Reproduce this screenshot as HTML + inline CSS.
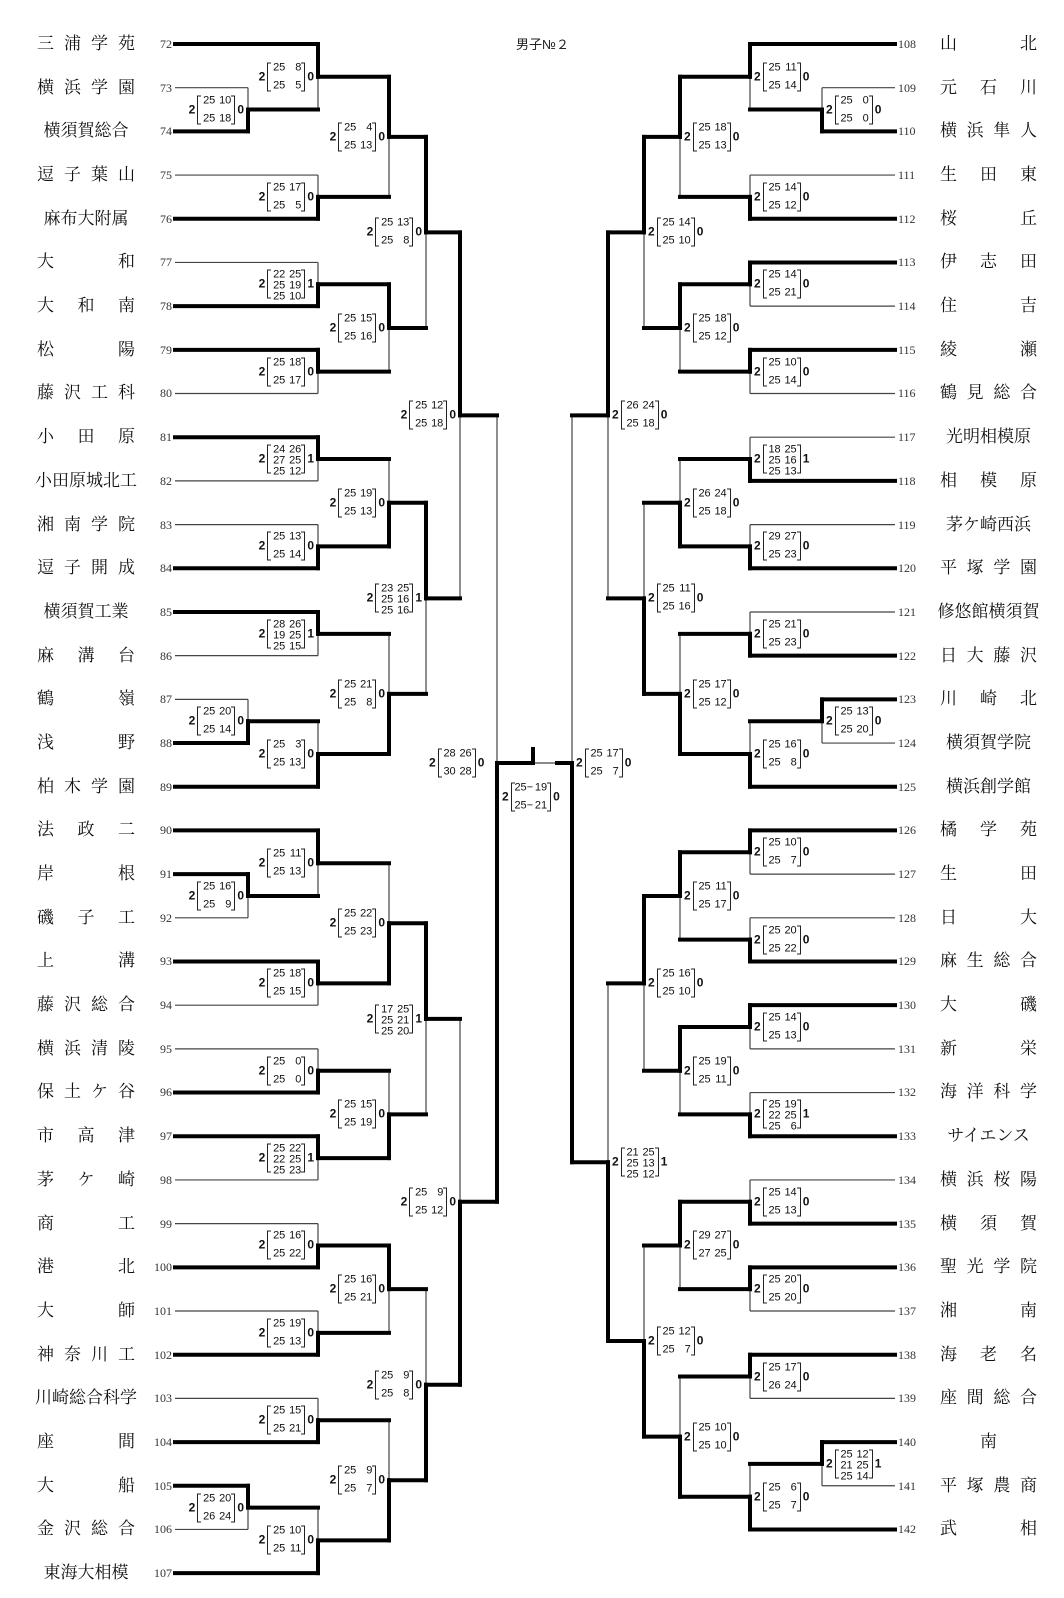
<!DOCTYPE html>
<html><head><meta charset="utf-8">
<style>
html,body{margin:0;padding:0;background:#fff}
#wrap{position:relative;width:1064px;height:1598px;overflow:hidden;background:#fff}
svg{position:absolute;left:0;top:0}
.col{position:absolute;top:22.15px}
.row{height:43.69px;position:relative}
.nm{position:absolute;top:50%;transform:translateY(-50%);font-size:17px;font-family:"Liberation Serif","Noto Serif CJK SC",serif;white-space:nowrap;line-height:22px;color:#111}
.j{text-align:justify;text-align-last:justify}
.c{text-align:center}
.no{position:absolute;top:50%;transform:translateY(-50%);font:12px "Liberation Serif",serif;color:#333;line-height:14px}
.L{left:0;width:175px}
.L .nm{left:37px;width:98px}
.L .nm.c{left:20px;width:132px}
.L .no{right:3px}
.R{left:895px;width:169px}
.R .no{left:3px}
.R .nm{left:45px;width:97px}
.R .nm.c{left:28px;width:131px}
.sc{position:absolute;display:flex;align-items:center;font:11px "Liberation Sans",sans-serif;line-height:11px;transform:translateY(-50%);color:#111;white-space:nowrap}
.sc b{font-size:12px;font-weight:bold;font-family:"Liberation Sans",sans-serif}
.bx{position:relative;height:29px;display:flex;flex-direction:column;justify-content:space-between;padding:0 4px 0 2px;margin:0 2px}
.bx::before,.bx::after{content:"";position:absolute;top:0;bottom:0;width:3px;border:1px solid #222}
.bx::before{left:0;border-right:none}
.bx::after{right:0;border-left:none}
.bx p{margin:0;display:flex}
.bx i{font-style:normal;width:16px;text-align:right;display:block}
.bx p.d i{width:14px}
.title{position:absolute;left:516px;top:34px;font:13px "Liberation Sans","Noto Sans CJK JP",sans-serif;color:#222}
</style></head><body><div id="wrap">
<svg id="sv" width="1064" height="1598" xmlns="http://www.w3.org/2000/svg"></svg>
<div class="title">男子№２</div>

<div class="col L">
<div class="row"><span class="nm j">三浦学苑</span><span class="no">72</span></div>
<div class="row"><span class="nm j">横浜学園</span><span class="no">73</span></div>
<div class="row"><span class="nm c">横須賀総合</span><span class="no">74</span></div>
<div class="row"><span class="nm j">逗子葉山</span><span class="no">75</span></div>
<div class="row"><span class="nm c">麻布大附属</span><span class="no">76</span></div>
<div class="row"><span class="nm j">大　和</span><span class="no">77</span></div>
<div class="row"><span class="nm j">大和南</span><span class="no">78</span></div>
<div class="row"><span class="nm j">松　陽</span><span class="no">79</span></div>
<div class="row"><span class="nm j">藤沢工科</span><span class="no">80</span></div>
<div class="row"><span class="nm j">小田原</span><span class="no">81</span></div>
<div class="row"><span class="nm c">小田原城北工</span><span class="no">82</span></div>
<div class="row"><span class="nm j">湘南学院</span><span class="no">83</span></div>
<div class="row"><span class="nm j">逗子開成</span><span class="no">84</span></div>
<div class="row"><span class="nm c">横須賀工業</span><span class="no">85</span></div>
<div class="row"><span class="nm j">麻溝台</span><span class="no">86</span></div>
<div class="row"><span class="nm j">鶴　嶺</span><span class="no">87</span></div>
<div class="row"><span class="nm j">浅　野</span><span class="no">88</span></div>
<div class="row"><span class="nm j">柏木学園</span><span class="no">89</span></div>
<div class="row"><span class="nm j">法政二</span><span class="no">90</span></div>
<div class="row"><span class="nm j">岸　根</span><span class="no">91</span></div>
<div class="row"><span class="nm j">磯子工</span><span class="no">92</span></div>
<div class="row"><span class="nm j">上　溝</span><span class="no">93</span></div>
<div class="row"><span class="nm j">藤沢総合</span><span class="no">94</span></div>
<div class="row"><span class="nm j">横浜清陵</span><span class="no">95</span></div>
<div class="row"><span class="nm j">保土ケ谷</span><span class="no">96</span></div>
<div class="row"><span class="nm j">市高津</span><span class="no">97</span></div>
<div class="row"><span class="nm j">茅ケ崎</span><span class="no">98</span></div>
<div class="row"><span class="nm j">商　工</span><span class="no">99</span></div>
<div class="row"><span class="nm j">港　北</span><span class="no">100</span></div>
<div class="row"><span class="nm j">大　師</span><span class="no">101</span></div>
<div class="row"><span class="nm j">神奈川工</span><span class="no">102</span></div>
<div class="row"><span class="nm c">川崎総合科学</span><span class="no">103</span></div>
<div class="row"><span class="nm j">座　間</span><span class="no">104</span></div>
<div class="row"><span class="nm j">大　船</span><span class="no">105</span></div>
<div class="row"><span class="nm j">金沢総合</span><span class="no">106</span></div>
<div class="row"><span class="nm c">東海大相模</span><span class="no">107</span></div>
</div>

<div class="col R">
<div class="row"><span class="nm j">山　北</span><span class="no">108</span></div>
<div class="row"><span class="nm j">元石川</span><span class="no">109</span></div>
<div class="row"><span class="nm j">横浜隼人</span><span class="no">110</span></div>
<div class="row"><span class="nm j">生田東</span><span class="no">111</span></div>
<div class="row"><span class="nm j">桜　丘</span><span class="no">112</span></div>
<div class="row"><span class="nm j">伊志田</span><span class="no">113</span></div>
<div class="row"><span class="nm j">住　吉</span><span class="no">114</span></div>
<div class="row"><span class="nm j">綾　瀬</span><span class="no">115</span></div>
<div class="row"><span class="nm j">鶴見総合</span><span class="no">116</span></div>
<div class="row"><span class="nm c">光明相模原</span><span class="no">117</span></div>
<div class="row"><span class="nm j">相模原</span><span class="no">118</span></div>
<div class="row"><span class="nm c">茅ケ崎西浜</span><span class="no">119</span></div>
<div class="row"><span class="nm j">平塚学園</span><span class="no">120</span></div>
<div class="row"><span class="nm c">修悠館横須賀</span><span class="no">121</span></div>
<div class="row"><span class="nm j">日大藤沢</span><span class="no">122</span></div>
<div class="row"><span class="nm j">川崎北</span><span class="no">123</span></div>
<div class="row"><span class="nm c">横須賀学院</span><span class="no">124</span></div>
<div class="row"><span class="nm c">横浜創学館</span><span class="no">125</span></div>
<div class="row"><span class="nm j">橘学苑</span><span class="no">126</span></div>
<div class="row"><span class="nm j">生　田</span><span class="no">127</span></div>
<div class="row"><span class="nm j">日　大</span><span class="no">128</span></div>
<div class="row"><span class="nm j">麻生総合</span><span class="no">129</span></div>
<div class="row"><span class="nm j">大　磯</span><span class="no">130</span></div>
<div class="row"><span class="nm j">新　栄</span><span class="no">131</span></div>
<div class="row"><span class="nm j">海洋科学</span><span class="no">132</span></div>
<div class="row"><span class="nm c">サイエンス</span><span class="no">133</span></div>
<div class="row"><span class="nm j">横浜桜陽</span><span class="no">134</span></div>
<div class="row"><span class="nm j">横須賀</span><span class="no">135</span></div>
<div class="row"><span class="nm j">聖光学院</span><span class="no">136</span></div>
<div class="row"><span class="nm j">湘　南</span><span class="no">137</span></div>
<div class="row"><span class="nm j">海老名</span><span class="no">138</span></div>
<div class="row"><span class="nm j">座間総合</span><span class="no">139</span></div>
<div class="row"><span class="nm c">南</span><span class="no">140</span></div>
<div class="row"><span class="nm j">平塚農商</span><span class="no">141</span></div>
<div class="row"><span class="nm j">武　相</span><span class="no">142</span></div>
</div>

<div class="sc" id="l1"><b>2</b><div class="bx"><p><i>25</i><i>10</i></p><p><i>25</i><i>18</i></p></div><b>0</b></div>
<div class="sc" id="l2"><b>2</b><div class="bx"><p><i>25</i><i>8</i></p><p><i>25</i><i>5</i></p></div><b>0</b></div>
<div class="sc" id="l3"><b>2</b><div class="bx"><p><i>25</i><i>17</i></p><p><i>25</i><i>5</i></p></div><b>0</b></div>
<div class="sc" id="l4"><b>2</b><div class="bx"><p><i>25</i><i>4</i></p><p><i>25</i><i>13</i></p></div><b>0</b></div>
<div class="sc" id="l5"><b>2</b><div class="bx"><p><i>22</i><i>25</i></p><p><i>25</i><i>19</i></p><p><i>25</i><i>10</i></p></div><b>1</b></div>
<div class="sc" id="l6"><b>2</b><div class="bx"><p><i>25</i><i>18</i></p><p><i>25</i><i>17</i></p></div><b>0</b></div>
<div class="sc" id="l7"><b>2</b><div class="bx"><p><i>25</i><i>15</i></p><p><i>25</i><i>16</i></p></div><b>0</b></div>
<div class="sc" id="l8"><b>2</b><div class="bx"><p><i>25</i><i>13</i></p><p><i>25</i><i>8</i></p></div><b>0</b></div>
<div class="sc" id="l9"><b>2</b><div class="bx"><p><i>24</i><i>26</i></p><p><i>27</i><i>25</i></p><p><i>25</i><i>12</i></p></div><b>1</b></div>
<div class="sc" id="l10"><b>2</b><div class="bx"><p><i>25</i><i>13</i></p><p><i>25</i><i>14</i></p></div><b>0</b></div>
<div class="sc" id="l11"><b>2</b><div class="bx"><p><i>25</i><i>19</i></p><p><i>25</i><i>13</i></p></div><b>0</b></div>
<div class="sc" id="l12"><b>2</b><div class="bx"><p><i>28</i><i>26</i></p><p><i>19</i><i>25</i></p><p><i>25</i><i>15</i></p></div><b>1</b></div>
<div class="sc" id="l13"><b>2</b><div class="bx"><p><i>25</i><i>20</i></p><p><i>25</i><i>14</i></p></div><b>0</b></div>
<div class="sc" id="l14"><b>2</b><div class="bx"><p><i>25</i><i>3</i></p><p><i>25</i><i>13</i></p></div><b>0</b></div>
<div class="sc" id="l15"><b>2</b><div class="bx"><p><i>25</i><i>21</i></p><p><i>25</i><i>8</i></p></div><b>0</b></div>
<div class="sc" id="l16"><b>2</b><div class="bx"><p><i>23</i><i>25</i></p><p><i>25</i><i>16</i></p><p><i>25</i><i>16</i></p></div><b>1</b></div>
<div class="sc" id="l17"><b>2</b><div class="bx"><p><i>25</i><i>12</i></p><p><i>25</i><i>18</i></p></div><b>0</b></div>
<div class="sc" id="l18"><b>2</b><div class="bx"><p><i>25</i><i>16</i></p><p><i>25</i><i>9</i></p></div><b>0</b></div>
<div class="sc" id="l19"><b>2</b><div class="bx"><p><i>25</i><i>11</i></p><p><i>25</i><i>13</i></p></div><b>0</b></div>
<div class="sc" id="l20"><b>2</b><div class="bx"><p><i>25</i><i>18</i></p><p><i>25</i><i>15</i></p></div><b>0</b></div>
<div class="sc" id="l21"><b>2</b><div class="bx"><p><i>25</i><i>22</i></p><p><i>25</i><i>23</i></p></div><b>0</b></div>
<div class="sc" id="l22"><b>2</b><div class="bx"><p><i>25</i><i>0</i></p><p><i>25</i><i>0</i></p></div><b>0</b></div>
<div class="sc" id="l23"><b>2</b><div class="bx"><p><i>25</i><i>22</i></p><p><i>22</i><i>25</i></p><p><i>25</i><i>23</i></p></div><b>1</b></div>
<div class="sc" id="l24"><b>2</b><div class="bx"><p><i>25</i><i>15</i></p><p><i>25</i><i>19</i></p></div><b>0</b></div>
<div class="sc" id="l25"><b>2</b><div class="bx"><p><i>17</i><i>25</i></p><p><i>25</i><i>21</i></p><p><i>25</i><i>20</i></p></div><b>1</b></div>
<div class="sc" id="l26"><b>2</b><div class="bx"><p><i>25</i><i>16</i></p><p><i>25</i><i>22</i></p></div><b>0</b></div>
<div class="sc" id="l27"><b>2</b><div class="bx"><p><i>25</i><i>19</i></p><p><i>25</i><i>13</i></p></div><b>0</b></div>
<div class="sc" id="l28"><b>2</b><div class="bx"><p><i>25</i><i>16</i></p><p><i>25</i><i>21</i></p></div><b>0</b></div>
<div class="sc" id="l29"><b>2</b><div class="bx"><p><i>25</i><i>15</i></p><p><i>25</i><i>21</i></p></div><b>0</b></div>
<div class="sc" id="l30"><b>2</b><div class="bx"><p><i>25</i><i>20</i></p><p><i>26</i><i>24</i></p></div><b>0</b></div>
<div class="sc" id="l31"><b>2</b><div class="bx"><p><i>25</i><i>10</i></p><p><i>25</i><i>11</i></p></div><b>0</b></div>
<div class="sc" id="l32"><b>2</b><div class="bx"><p><i>25</i><i>9</i></p><p><i>25</i><i>7</i></p></div><b>0</b></div>
<div class="sc" id="l33"><b>2</b><div class="bx"><p><i>25</i><i>9</i></p><p><i>25</i><i>8</i></p></div><b>0</b></div>
<div class="sc" id="l34"><b>2</b><div class="bx"><p><i>25</i><i>9</i></p><p><i>25</i><i>12</i></p></div><b>0</b></div>

<div class="sc" id="r1"><b>2</b><div class="bx"><p><i>25</i><i>0</i></p><p><i>25</i><i>0</i></p></div><b>0</b></div>
<div class="sc" id="r2"><b>2</b><div class="bx"><p><i>25</i><i>11</i></p><p><i>25</i><i>14</i></p></div><b>0</b></div>
<div class="sc" id="r3"><b>2</b><div class="bx"><p><i>25</i><i>14</i></p><p><i>25</i><i>12</i></p></div><b>0</b></div>
<div class="sc" id="r4"><b>2</b><div class="bx"><p><i>25</i><i>18</i></p><p><i>25</i><i>13</i></p></div><b>0</b></div>
<div class="sc" id="r5"><b>2</b><div class="bx"><p><i>25</i><i>14</i></p><p><i>25</i><i>21</i></p></div><b>0</b></div>
<div class="sc" id="r6"><b>2</b><div class="bx"><p><i>25</i><i>10</i></p><p><i>25</i><i>14</i></p></div><b>0</b></div>
<div class="sc" id="r7"><b>2</b><div class="bx"><p><i>25</i><i>18</i></p><p><i>25</i><i>12</i></p></div><b>0</b></div>
<div class="sc" id="r8"><b>2</b><div class="bx"><p><i>25</i><i>14</i></p><p><i>25</i><i>10</i></p></div><b>0</b></div>
<div class="sc" id="r9"><b>2</b><div class="bx"><p><i>18</i><i>25</i></p><p><i>25</i><i>16</i></p><p><i>25</i><i>13</i></p></div><b>1</b></div>
<div class="sc" id="r10"><b>2</b><div class="bx"><p><i>29</i><i>27</i></p><p><i>25</i><i>23</i></p></div><b>0</b></div>
<div class="sc" id="r11"><b>2</b><div class="bx"><p><i>26</i><i>24</i></p><p><i>25</i><i>18</i></p></div><b>0</b></div>
<div class="sc" id="r12"><b>2</b><div class="bx"><p><i>25</i><i>21</i></p><p><i>25</i><i>23</i></p></div><b>0</b></div>
<div class="sc" id="r13"><b>2</b><div class="bx"><p><i>25</i><i>13</i></p><p><i>25</i><i>20</i></p></div><b>0</b></div>
<div class="sc" id="r14"><b>2</b><div class="bx"><p><i>25</i><i>16</i></p><p><i>25</i><i>8</i></p></div><b>0</b></div>
<div class="sc" id="r15"><b>2</b><div class="bx"><p><i>25</i><i>17</i></p><p><i>25</i><i>12</i></p></div><b>0</b></div>
<div class="sc" id="r16"><b>2</b><div class="bx"><p><i>25</i><i>11</i></p><p><i>25</i><i>16</i></p></div><b>0</b></div>
<div class="sc" id="r17"><b>2</b><div class="bx"><p><i>26</i><i>24</i></p><p><i>25</i><i>18</i></p></div><b>0</b></div>
<div class="sc" id="r18"><b>2</b><div class="bx"><p><i>25</i><i>10</i></p><p><i>25</i><i>7</i></p></div><b>0</b></div>
<div class="sc" id="r19"><b>2</b><div class="bx"><p><i>25</i><i>20</i></p><p><i>25</i><i>22</i></p></div><b>0</b></div>
<div class="sc" id="r20"><b>2</b><div class="bx"><p><i>25</i><i>11</i></p><p><i>25</i><i>17</i></p></div><b>0</b></div>
<div class="sc" id="r21"><b>2</b><div class="bx"><p><i>25</i><i>14</i></p><p><i>25</i><i>13</i></p></div><b>0</b></div>
<div class="sc" id="r22"><b>2</b><div class="bx"><p><i>25</i><i>19</i></p><p><i>22</i><i>25</i></p><p><i>25</i><i>6</i></p></div><b>1</b></div>
<div class="sc" id="r23"><b>2</b><div class="bx"><p><i>25</i><i>19</i></p><p><i>25</i><i>11</i></p></div><b>0</b></div>
<div class="sc" id="r24"><b>2</b><div class="bx"><p><i>25</i><i>16</i></p><p><i>25</i><i>10</i></p></div><b>0</b></div>
<div class="sc" id="r25"><b>2</b><div class="bx"><p><i>25</i><i>14</i></p><p><i>25</i><i>13</i></p></div><b>0</b></div>
<div class="sc" id="r26"><b>2</b><div class="bx"><p><i>25</i><i>20</i></p><p><i>25</i><i>20</i></p></div><b>0</b></div>
<div class="sc" id="r27"><b>2</b><div class="bx"><p><i>29</i><i>27</i></p><p><i>27</i><i>25</i></p></div><b>0</b></div>
<div class="sc" id="r28"><b>2</b><div class="bx"><p><i>25</i><i>17</i></p><p><i>26</i><i>24</i></p></div><b>0</b></div>
<div class="sc" id="r29"><b>2</b><div class="bx"><p><i>25</i><i>12</i></p><p><i>21</i><i>25</i></p><p><i>25</i><i>14</i></p></div><b>1</b></div>
<div class="sc" id="r30"><b>2</b><div class="bx"><p><i>25</i><i>6</i></p><p><i>25</i><i>7</i></p></div><b>0</b></div>
<div class="sc" id="r31"><b>2</b><div class="bx"><p><i>25</i><i>10</i></p><p><i>25</i><i>10</i></p></div><b>0</b></div>
<div class="sc" id="r32"><b>2</b><div class="bx"><p><i>25</i><i>12</i></p><p><i>25</i><i>7</i></p></div><b>0</b></div>
<div class="sc" id="r33"><b>2</b><div class="bx"><p><i>21</i><i>25</i></p><p><i>25</i><i>13</i></p><p><i>25</i><i>12</i></p></div><b>1</b></div>

<div class="sc" style="left:429px;top:763px"><b>2</b><div class="bx"><p><i>28</i><i>26</i></p><p><i>30</i><i>28</i></p></div><b>0</b></div>
<div class="sc" style="left:576px;top:763px"><b>2</b><div class="bx"><p><i>25</i><i>17</i></p><p><i>25</i><i>7</i></p></div><b>0</b></div>
<div class="sc" style="left:502px;top:797px"><b>2</b><div class="bx"><p class="d"><i>25</i>−<i>19</i></p><p class="d"><i>25</i>−<i>21</i></p></div><b>0</b></div>

</div>
<script>
(function(){
var sv=document.getElementById('sv');
var NS='http://www.w3.org/2000/svg';
function line(x1,y1,x2,y2,th){
  var l=document.createElementNS(NS,'line');
  l.setAttribute('x1',x1);l.setAttribute('y1',y1);l.setAttribute('x2',x2);l.setAttribute('y2',y2);
  l.setAttribute('stroke',th?'#000':'#444');
  l.setAttribute('stroke-width',th?4:1.2);
  l.setAttribute('stroke-linecap',th?'square':'butt');
  if(th){sv.appendChild(l);}else{sv.insertBefore(l,sv.firstChild);}
}
function ys(i){return 44+43.69*i;}
function T(n){return {t:n};}
function M(a,b,w,x,s){return {a:a,b:b,w:w,x:x,s:s};}
function place(id,x,y,side){
  var e=document.getElementById(id);if(!e)return;
  e.style.top=y+'px';
  if(side==='L'){e.style.right=(1064-(x-4))+'px';}else{e.style.left=(x+4)+'px';}
}
function draw(nd,side){
  if(nd.t!==undefined){
    var base=side==='L'?72:108;
    return {y:ys(nd.t-base),x:side==='L'?175:895,leaf:true};
  }
  var A=draw(nd.a,side),B=draw(nd.b,side);
  var y=(A.y+B.y)/2;
  line(A.x,A.y,nd.x,A.y,(!A.leaf)||nd.w===0);
  line(B.x,B.y,nd.x,B.y,(!B.leaf)||nd.w===1);
  line(nd.x,A.y,nd.x,y,nd.w===0);
  line(nd.x,y,nd.x,B.y,nd.w===1);
  place(nd.s,nd.x,y,side);
  return {y:y,x:nd.x,leaf:false};
}
var A=M(T(73),T(74),1,248,'l1'),B=M(T(72),A,0,318,'l2'),C=M(T(75),T(76),1,318,'l3'),D=M(B,C,0,389,'l4');
var E=M(T(77),T(78),1,318,'l5'),F=M(T(79),T(80),0,318,'l6'),G=M(E,F,0,389,'l7'),H=M(D,G,0,426,'l8');
var I=M(T(81),T(82),0,318,'l9'),J=M(T(83),T(84),1,318,'l10'),K=M(I,J,1,389,'l11');
var Lm=M(T(85),T(86),0,318,'l12'),Mm=M(T(87),T(88),1,248,'l13'),N=M(Mm,T(89),1,318,'l14'),O=M(Lm,N,1,389,'l15');
var P=M(K,O,0,426,'l16'),Q=M(H,P,0,460,'l17');
var R=M(T(91),T(92),0,248,'l18'),S=M(T(90),R,0,318,'l19'),Tm=M(T(93),T(94),0,318,'l20'),U=M(S,Tm,1,389,'l21');
var V=M(T(95),T(96),1,318,'l22'),W=M(T(97),T(98),0,318,'l23'),X=M(V,W,1,389,'l24'),Y=M(U,X,0,426,'l25');
var Z=M(T(99),T(100),1,318,'l26'),AA=M(T(101),T(102),1,318,'l27'),AB=M(Z,AA,0,389,'l28');
var AC=M(T(103),T(104),1,318,'l29'),AD=M(T(105),T(106),0,248,'l30'),AE=M(AD,T(107),1,318,'l31'),AF=M(AC,AE,1,389,'l32');
var AG=M(AB,AF,1,426,'l33'),AH=M(Y,AG,1,460,'l34');
var lq=draw(Q,'L'),lh=draw(AH,'L');
line(460,lq.y,497,lq.y,1);line(460,lh.y,497,lh.y,1);
line(497,lq.y,497,763,0);line(497,763,497,lh.y,1);
var a=M(T(109),T(110),1,822,'r1'),b=M(T(108),a,0,750,'r2'),c=M(T(111),T(112),1,750,'r3'),d=M(b,c,0,680,'r4');
var e=M(T(113),T(114),0,750,'r5'),f=M(T(115),T(116),0,750,'r6'),g=M(e,f,0,680,'r7'),h=M(d,g,0,644,'r8');
var i=M(T(117),T(118),1,750,'r9'),j=M(T(119),T(120),1,750,'r10'),k=M(i,j,1,680,'r11');
var l=M(T(121),T(122),1,750,'r12'),m=M(T(123),T(124),0,822,'r13'),n=M(m,T(125),1,750,'r14'),o=M(l,n,1,680,'r15');
var p=M(k,o,1,644,'r16'),q=M(h,p,0,608,'r17');
var r=M(T(126),T(127),0,750,'r18'),s=M(T(128),T(129),1,750,'r19'),t=M(r,s,0,680,'r20');
var u=M(T(130),T(131),0,750,'r21'),v=M(T(132),T(133),1,750,'r22'),w=M(u,v,0,680,'r23'),x=M(t,w,0,644,'r24');
var y=M(T(134),T(135),1,750,'r25'),z=M(T(136),T(137),0,750,'r26'),A2=M(y,z,0,680,'r27');
var B2=M(T(138),T(139),0,750,'r28'),C2=M(T(140),T(141),0,822,'r29'),D2=M(C2,T(142),1,750,'r30'),E2=M(B2,D2,1,680,'r31');
var F2=M(A2,E2,1,644,'r32'),G2=M(x,F2,1,608,'r33');
var rq=draw(q,'R'),rg=draw(G2,'R');
line(608,rq.y,572,rq.y,1);line(608,rg.y,572,rg.y,1);
line(572,rq.y,572,763,0);line(572,763,572,rg.y,1);
line(497,763,533,763,1);line(533,763,557,763,0);line(557,763,572,763,1);line(533,749,533,763,1);
})();
</script>
</body></html>
